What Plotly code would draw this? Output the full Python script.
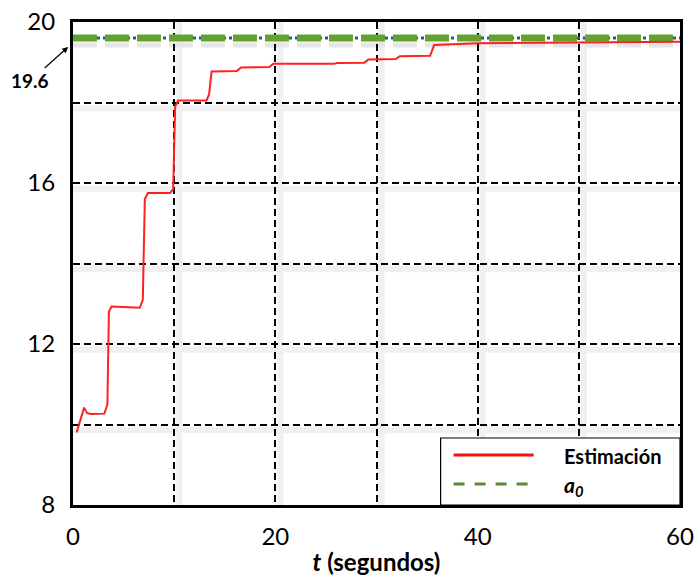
import plotly.graph_objects as go

# ---- data ----
t_est = [0.35, 0.8, 1.1, 1.4, 1.8, 3.1, 3.4, 3.55, 3.8, 6.6, 6.9, 7.1, 7.4, 9.6, 9.9, 10.1,
         10.4, 13.2, 13.45, 13.7, 16.2, 16.6, 19.4, 19.8, 25.8, 26.1, 28.8, 29.2, 31.9, 32.3,
         35.3, 35.7, 40.0, 60.0]
estimacion = [9.8, 10.2, 10.42, 10.28, 10.26, 10.27, 10.5, 12.8, 12.93, 12.9, 13.1, 15.6, 15.75,
              15.75, 15.85, 17.9, 18.05, 18.05, 18.2, 18.77, 18.78, 18.87, 18.88, 18.96, 18.96,
              18.98, 18.99, 19.07, 19.08, 19.15, 19.16, 19.43, 19.47, 19.51]
a0_value = 19.6
t_range = [0, 60]
y_range = [8, 20]
x_tickvals = [0, 20, 40, 60]
x_grid_step = 10
y_tickvals = [8, 12, 16, 20]
y_grid_step = 2

FONT = "Lato"
GRID_DASH = "7px,4px"
fig = go.Figure()

# a0 reference line (blue dotted underlay + green dashes)
fig.add_trace(go.Scatter(x=t_range, y=[a0_value, a0_value], mode="lines",
                         line=dict(color="#2f55a4", width=3, dash="dot"),
                         showlegend=False, hoverinfo="skip"))
fig.add_trace(go.Scatter(x=t_range, y=[a0_value, a0_value], mode="lines", name="a0",
                         line=dict(color="#62a330", width=7, dash="24px,8px"),
                         showlegend=False))
fig.add_trace(go.Scatter(x=t_est, y=estimacion, mode="lines", name="Estimación",
                         line=dict(color="#ff2020", width=2), showlegend=False))

shapes = []
# soft shadows under the grid lines
yv = y_range[0] + y_grid_step
while yv < y_range[1]:
    shapes.append(dict(type="line", xref="x", yref="y", x0=t_range[0], x1=t_range[1],
                       y0=yv - 0.14, y1=yv - 0.14, layer="below",
                       line=dict(color="#f0f0f0", width=6)))
    yv += y_grid_step
xv = t_range[0] + x_grid_step
while xv < t_range[1]:
    shapes.append(dict(type="line", xref="x", yref="y", x0=xv + 0.5, x1=xv + 0.5,
                       y0=y_range[0], y1=y_range[1], layer="below",
                       line=dict(color="#f0f0f0", width=6)))
    xv += x_grid_step
shapes.append(dict(type="line", xref="x", yref="y", x0=t_range[0], x1=t_range[1],
                   y0=a0_value - 0.17, y1=a0_value - 0.17, layer="below",
                   line=dict(color="#e6e6e6", width=5, dash="24px,8px")))

# legend box (manual)
shapes.append(dict(type="rect", xref="paper", yref="paper", x0=0.6056, x1=1.0, y0=0.0, y1=0.1387,
                   layer="above", fillcolor="white", line=dict(color="black", width=1.2)))
shapes.append(dict(type="line", xref="paper", yref="paper", x0=0.627, x1=0.759, y0=0.1035, y1=0.1035,
                   layer="above", line=dict(color="#ff1010", width=3)))
shapes.append(dict(type="line", xref="paper", yref="paper", x0=0.627, x1=0.759, y0=0.0435, y1=0.0435,
                   layer="above", line=dict(color="#5a8a3a", width=3, dash="11px,10px")))

annotations = [
    dict(xref="paper", yref="paper", x=0.805, y=0.101, text="<b>Estimación</b>", showarrow=False,
         xanchor="left", yanchor="middle", font=dict(family=FONT, size=20, color="black")),
    dict(xref="paper", yref="paper", x=0.805, y=0.040, text="<b><i>a<sub>0</sub></i></b>",
         showarrow=False, xanchor="left", yanchor="middle",
         font=dict(family=FONT, size=21, color="black")),
    dict(xref="paper", yref="y", x=-0.008, y=19.38, text="<b>19.6</b>", showarrow=True,
         arrowhead=2, arrowsize=1, arrowwidth=1.2, arrowcolor="black", ax=-38, ay=34,
         font=dict(family=FONT, size=19, color="black")),
]

grid_common = dict(showgrid=True, gridcolor="black", gridwidth=2, griddash=GRID_DASH)

fig.update_layout(
    width=694, height=579,
    margin=dict(l=73, r=14, t=22, b=74, autoexpand=False),
    paper_bgcolor="white", plot_bgcolor="white",
    shapes=shapes, annotations=annotations,
    showlegend=False,
    xaxis=dict(range=t_range, tickvals=x_tickvals, **grid_common,
               minor=dict(dtick=x_grid_step, tick0=0, ticks="", **grid_common),
               showline=True, linecolor="black", linewidth=3, mirror=True,
               ticks="", zeroline=False, ticklabelstandoff=8, ticklabeloverflow="allow",
               automargin=False,
               tickfont=dict(family=FONT, size=24, color="black"),
               title=dict(text="<b><i>t</i> (segundos)</b>", standoff=6,
                          font=dict(family=FONT, size=24, color="black"))),
    yaxis=dict(range=y_range, tickvals=y_tickvals, **grid_common,
               minor=dict(dtick=y_grid_step, tick0=y_range[0], ticks="", **grid_common),
               showline=True, linecolor="black", linewidth=3, mirror=True,
               ticks="", zeroline=False, ticklabelstandoff=10, automargin=False,
               tickfont=dict(family=FONT, size=24, color="black")),
)

fig.write_html("out.html")
